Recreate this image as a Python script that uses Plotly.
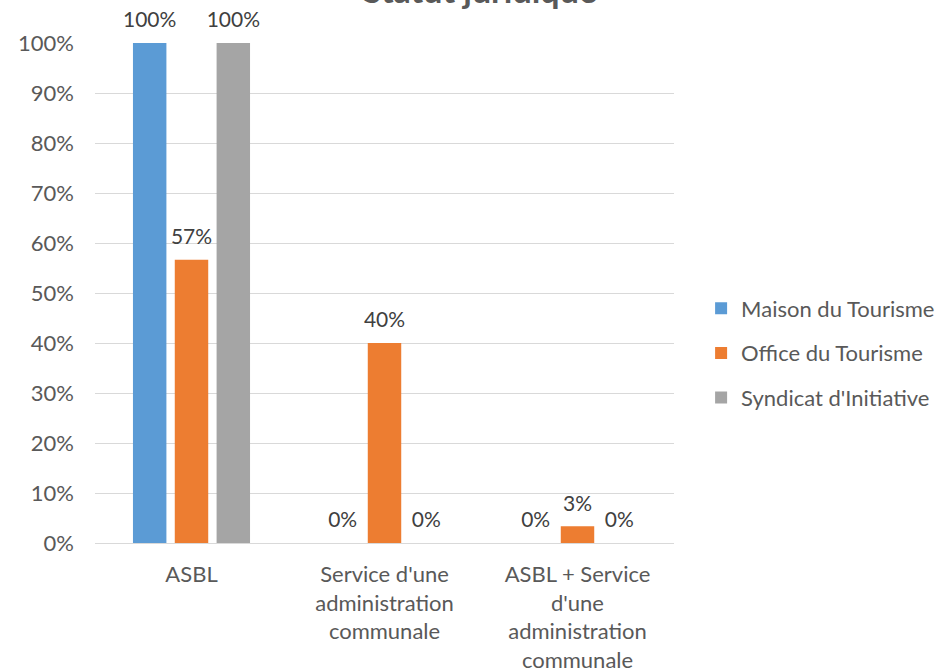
import plotly.graph_objects as go

# Legal status of tourism bodies, share of each type per category
categories = [
    "ASBL",
    "Service d'une<br>administration<br>communale",
    "ASBL + Service<br>d'une<br>administration<br>communale",
]
maison_tourisme = [1.0, 0.0, 0.0]
office_tourisme = [17 / 30, 12 / 30, 1 / 30]
syndicat_initiative = [1.0, 0.0, 0.0]

series_names = ["Maison du Tourisme", "Office du Tourisme", "Syndicat d'Initiative"]
series_values = [maison_tourisme, office_tourisme, syndicat_initiative]
series_colors = ["#5b9bd5", "#ed7d31", "#a5a5a5"]

FONT = "Lato"
FSIZE = 22

fig = go.Figure()
for i, (name, vals, col) in enumerate(zip(series_names, series_values, series_colors)):
    fig.add_trace(
        go.Bar(
            x=categories,
            y=vals,
            name=name,
            legendgroup=f"g{i}",
            offsetgroup=str(i),
            alignmentgroup="all",
            marker=dict(color=col, line=dict(width=0)),
            hoverinfo="x+y+name",
        )
    )
    # value labels, grouped alongside the bars; the hidden marker sets the text offset
    fig.add_trace(
        go.Scatter(
            x=categories,
            y=vals,
            mode="markers+text",
            offsetgroup=str(i),
            alignmentgroup="all",
            marker=dict(size=15, color="rgba(0,0,0,0)"),
            text=[f"{v:.0%}" for v in vals],
            textposition="top center",
            textfont=dict(family=FONT, size=FSIZE - 1, color="#404040"),
            cliponaxis=False,
            showlegend=False,
            hoverinfo="skip",
        )
    )

fig.update_layout(
    width=951,
    height=671,
    paper_bgcolor="white",
    plot_bgcolor="white",
    barmode="group",
    bargap=0.35,
    bargroupgap=0.2,
    scattermode="group",
    scattergap=0.35,
    margin=dict(l=95, r=276, t=43, b=128),
    font=dict(family=FONT, size=FSIZE, color="#595959"),
    annotations=[
        dict(
            text="<b>Statut juridique</b>",
            font=dict(family=FONT, size=34, color="#595959"),
            xref="paper",
            yref="paper",
            x=(481 - 95) / 580,
            y=1.062,
            xanchor="center",
            yanchor="bottom",
            showarrow=False,
        )
    ],
    legend=dict(
        x=1.045,
        y=0.38,
        xanchor="left",
        yanchor="middle",
        font=dict(family=FONT, size=FSIZE, color="#595959"),
        tracegroupgap=13,
        itemwidth=30,
    ),
    xaxis=dict(
        showgrid=False,
        showline=False,
        ticks="",
        automargin=False,
        ticklabelstandoff=16,
        tickfont=dict(family=FONT, size=FSIZE, color="#595959"),
    ),
    yaxis=dict(
        range=[0, 1],
        dtick=0.1,
        tickformat=".0%",
        showgrid=True,
        gridcolor="#d9d9d9",
        gridwidth=1,
        zeroline=True,
        zerolinecolor="#d9d9d9",
        zerolinewidth=1,
        ticks="",
        automargin=False,
        ticklabelstandoff=20,
        tickfont=dict(family=FONT, size=FSIZE, color="#595959"),
    ),
)

fig.write_html("out.html")
